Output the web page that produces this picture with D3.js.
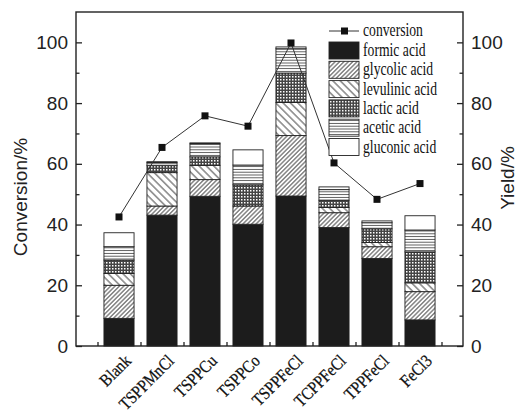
<!DOCTYPE html>
<html>
<head>
<meta charset="utf-8">
<script src="https://cdn.jsdelivr.net/npm/d3@7"></script>
<style>
  body { margin: 0; background: #fff; }
  svg { display: block; }
</style>
</head>
<body>
<div id="chart"></div>
<script>
// ── Data ──
var catalysts = ["Blank", "TSPPMnCl", "TSPPCu", "TSPPCo", "TSPPFeCl", "TCPPFeCl", "TPPFeCl", "FeCl3"];
var conversion = [42.5, 65.4, 75.8, 72.4, 99.8, 60.3, 48.3, 53.5];
var formic   = [9.1, 43.1, 49.3, 40.1, 49.4, 39.0, 28.8, 8.6];
var glycolic = [10.9, 3.0, 5.5, 6.0, 19.9, 4.9, 3.9, 9.3];
var levulinic = [3.9, 11.0, 4.7, 0.0, 10.9, 1.7, 1.4, 2.9];
var lactic   = [4.4, 2.3, 2.8, 7.0, 9.7, 2.4, 4.5, 10.2];
var acetic   = [4.4, 1.0, 4.3, 6.5, 8.0, 3.5, 2.0, 7.2];
var gluconic = [4.6, 0.3, 0.3, 5.0, 0.6, 0.9, 0.6, 4.7];
var seriesNames = ["formic acid", "glycolic acid", "levulinic acid", "lactic acid", "acetic acid", "gluconic acid"];
var seriesKeys = ["formic", "glycolic", "levulinic", "lactic", "acetic", "gluconic"];
var yTicks = [0, 20, 40, 60, 80, 100];

var width = 520, height = 416;
var plot = { left: 76, right: 463, top: 12, bottom: 346 };

var svg = d3.select("#chart").append("svg")
    .attr("width", width)
    .attr("height", height);

// ── Patterns ──
var defs = svg.append("defs");

function linePattern(id, w, h, angle, sw) {
    var p = defs.append("pattern")
        .attr("id", id)
        .attr("patternUnits", "userSpaceOnUse")
        .attr("width", w).attr("height", h)
        .attr("patternTransform", "rotate(" + angle + ")");
    p.append("rect").attr("width", w).attr("height", h).attr("fill", "#fff");
    p.append("line")
        .attr("x1", 0).attr("y1", h / 2).attr("x2", w).attr("y2", h / 2)
        .attr("stroke", "#333").attr("stroke-width", sw);
}
linePattern("pat-glycolic", 8, 3.1, -45, 0.9);
linePattern("pat-levulinic", 8, 5.2, 45, 0.9);
linePattern("pat-acetic", 8, 2.8, 0, 0.8);

var dots = defs.append("pattern")
    .attr("id", "pat-lactic")
    .attr("patternUnits", "userSpaceOnUse")
    .attr("width", 3).attr("height", 3);
dots.append("rect").attr("width", 3).attr("height", 3).attr("fill", "#444");
dots.append("rect").attr("x", 1).attr("y", 1).attr("width", 1.5).attr("height", 1.5).attr("fill", "#fff");

var fills = {
    formic: "#1c1c1c",
    glycolic: "url(#pat-glycolic)",
    levulinic: "url(#pat-levulinic)",
    lactic: "url(#pat-lactic)",
    acetic: "url(#pat-acetic)",
    gluconic: "#fff"
};

// ── Scales ──
var x = d3.scaleLinear().domain([0, catalysts.length + 1]).range([plot.left, plot.right]);
var y = d3.scaleLinear().domain([0, 110]).range([plot.bottom, plot.top]);
var barW = x(0.7) - x(0);

// ── Stacked bars ──
var table = catalysts.map(function(c, i) {
    return {
        name: c, pos: i + 1,
        formic: formic[i], glycolic: glycolic[i], levulinic: levulinic[i],
        lactic: lactic[i], acetic: acetic[i], gluconic: gluconic[i]
    };
});
var stacked = d3.stack().keys(seriesKeys)(table);

svg.append("g").selectAll("g")
    .data(stacked)
    .join("g")
    .attr("fill", function(d) { return fills[d.key]; })
    .selectAll("rect")
    .data(function(d) { return d.filter(function(s) { return s[1] - s[0] > 0; }); })
    .join("rect")
    .attr("x", function(d) { return x(d.data.pos) - barW / 2; })
    .attr("y", function(d) { return y(d[1]); })
    .attr("width", barW)
    .attr("height", function(d) { return y(d[0]) - y(d[1]); })
    .attr("stroke", "#222")
    .attr("stroke-width", 0.9);

// ── Conversion line ──
var line = d3.line()
    .x(function(d, i) { return x(i + 1); })
    .y(function(d) { return y(d); });

svg.append("path")
    .datum(conversion)
    .attr("d", line)
    .attr("fill", "none")
    .attr("stroke", "#333")
    .attr("stroke-width", 1);

svg.append("g").selectAll("rect")
    .data(conversion)
    .join("rect")
    .attr("x", function(d, i) { return x(i + 1) - 3.5; })
    .attr("y", function(d) { return y(d) - 3.5; })
    .attr("width", 7).attr("height", 7)
    .attr("fill", "#111");

// ── Frame and axes ──
svg.append("rect")
    .attr("x", plot.left).attr("y", plot.top)
    .attr("width", plot.right - plot.left)
    .attr("height", plot.bottom - plot.top)
    .attr("fill", "none")
    .attr("stroke", "#222")
    .attr("stroke-width", 1.4);

var axisFont = "'Liberation Sans', Arial, sans-serif";

var leftAxis = d3.axisLeft(y).tickValues(yTicks).tickSize(-6).tickPadding(8);
var leftMinor = d3.axisLeft(y).tickValues(d3.range(10, 110, 20)).tickSize(-3.5).tickFormat("");
var rightAxis = d3.axisRight(y).tickValues(yTicks).tickSize(-6).tickPadding(8);
var rightMinor = d3.axisRight(y).tickValues(d3.range(10, 110, 20)).tickSize(-3.5).tickFormat("");

function styleAxis(g) {
    g.select(".domain").remove();
    g.selectAll("line").attr("stroke", "#222").attr("stroke-width", 1.3);
    g.selectAll("text")
        .attr("font-family", axisFont)
        .attr("font-size", 19)
        .attr("fill", "#222");
}

svg.append("g").attr("transform", "translate(" + plot.left + ",0)").call(leftAxis).call(styleAxis);
svg.append("g").attr("transform", "translate(" + plot.left + ",0)").call(leftMinor).call(styleAxis);
svg.append("g").attr("transform", "translate(" + plot.right + ",0)").call(rightAxis).call(styleAxis);
svg.append("g").attr("transform", "translate(" + plot.right + ",0)").call(rightMinor).call(styleAxis);

// bottom ticks between categories
var bottomAxis = d3.axisBottom(x)
    .tickValues(d3.range(0.5, catalysts.length + 1, 1))
    .tickSize(-4).tickFormat("");
svg.append("g").attr("transform", "translate(0," + plot.bottom + ")").call(bottomAxis).call(styleAxis);

// category labels, rotated
var serif = "'Liberation Serif', 'Times New Roman', serif";
svg.append("g").selectAll("text")
    .data(catalysts)
    .join("text")
    .attr("transform", function(d, i) {
        return "translate(" + (x(i + 1) + 13) + "," + (plot.bottom + 16) + ") rotate(-45) scale(0.86,1)";
    })
    .attr("text-anchor", "end")
    .attr("font-family", serif)
    .attr("font-size", 17.5)
    .attr("fill", "#111")
    .attr("stroke", "#111")
    .attr("stroke-width", 0.25)
    .text(function(d) { return d; });

// axis titles
svg.append("text")
    .attr("transform", "translate(27," + ((plot.top + plot.bottom) / 2 + 18) + ") rotate(-90)")
    .attr("text-anchor", "middle")
    .attr("font-family", axisFont)
    .attr("font-size", 19)
    .attr("fill", "#222")
    .text("Conversion/%");

svg.append("text")
    .attr("transform", "translate(514,178) rotate(-90)")
    .attr("text-anchor", "middle")
    .attr("font-family", axisFont)
    .attr("font-size", 19)
    .attr("fill", "#222")
    .text("Yield/%");

// ── Legend ──
var legend = svg.append("g").attr("transform", "translate(329,31)");
legend.append("line")
    .attr("x1", 0).attr("x2", 30).attr("y1", 0).attr("y2", 0)
    .attr("stroke", "#333").attr("stroke-width", 1);
legend.append("rect")
    .attr("x", 12).attr("y", -3.5).attr("width", 7).attr("height", 7)
    .attr("fill", "#111");
legend.append("text")
    .attr("transform", "translate(34,5) scale(0.76,1)")
    .attr("font-family", serif).attr("font-size", 18).attr("fill", "#111")
    .text("conversion");

var items = legend.selectAll("g.item")
    .data(seriesKeys)
    .join("g")
    .attr("class", "item")
    .attr("transform", function(d, i) { return "translate(0," + (11 + i * 19.3) + ")"; });
items.append("rect")
    .attr("width", 30).attr("height", 17)
    .attr("fill", function(d) { return fills[d]; })
    .attr("stroke", "#222").attr("stroke-width", 0.9);
items.append("text")
    .attr("transform", "translate(34,14) scale(0.76,1)")
    .attr("font-family", serif).attr("font-size", 18).attr("fill", "#111")
    .text(function(d, i) { return seriesNames[i]; });
</script>
</body>
</html>
